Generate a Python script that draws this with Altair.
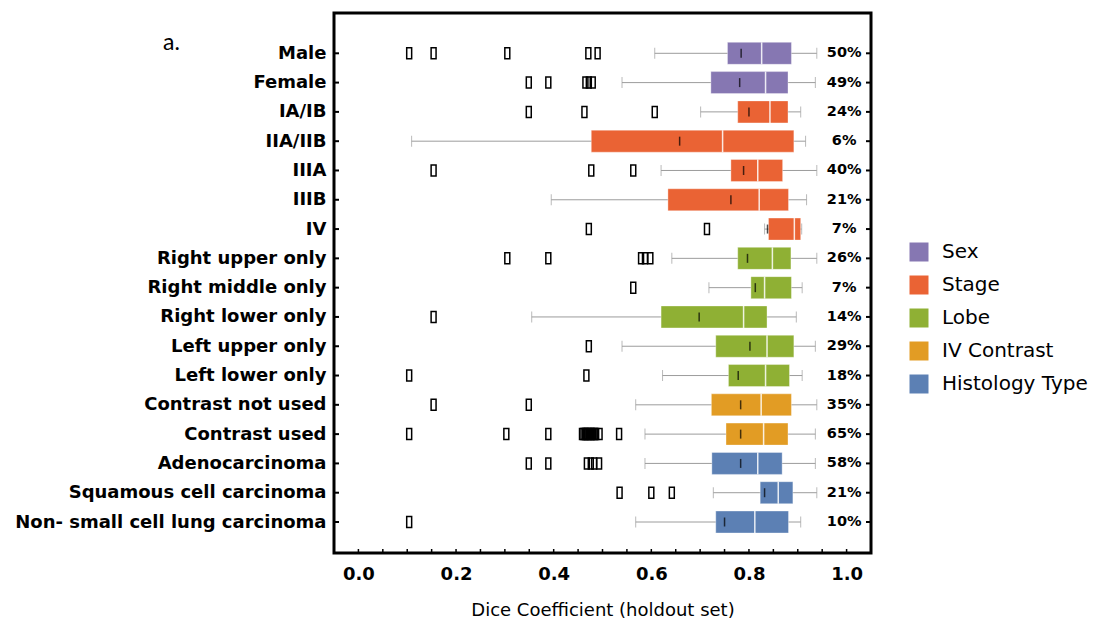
import altair as alt
import pandas as pd

categories = ["Male", "Female", "IA/IB", "IIA/IIB", "IIIA", "IIIB", "IV",
              "Right upper only", "Right middle only", "Right lower only",
              "Left upper only", "Left lower only", "Contrast not used",
              "Contrast used", "Adenocarcinoma", "Squamous cell carcinoma",
              "Non- small cell lung carcinoma"]
groups = ["Sex", "Sex", "Stage", "Stage", "Stage", "Stage", "Stage",
          "Lobe", "Lobe", "Lobe", "Lobe", "Lobe",
          "IV Contrast", "IV Contrast",
          "Histology Type", "Histology Type", "Histology Type"]
group_order = ["Sex", "Stage", "Lobe", "IV Contrast", "Histology Type"]
group_colors = ["#8677B2", "#EA6334", "#8FB034", "#E29C24", "#5C80B4"]

whisker_lo = [0.607, 0.540, 0.701, 0.109, 0.620, 0.395, 0.832, 0.642, 0.718,
              0.355, 0.540, 0.623, 0.568, 0.587, 0.587, 0.727, 0.568]
q1 = [0.756, 0.722, 0.777, 0.477, 0.763, 0.634, 0.840, 0.777, 0.804,
      0.620, 0.732, 0.758, 0.723, 0.753, 0.724, 0.823, 0.732]
median = [0.826, 0.834, 0.843, 0.746, 0.818, 0.821, 0.893, 0.848, 0.832,
          0.789, 0.837, 0.834, 0.825, 0.830, 0.818, 0.860, 0.812]
q3 = [0.887, 0.880, 0.880, 0.892, 0.869, 0.881, 0.906, 0.886, 0.887,
      0.837, 0.892, 0.883, 0.887, 0.880, 0.868, 0.890, 0.881]
whisker_hi = [0.939, 0.936, 0.906, 0.916, 0.939, 0.918, 0.908, 0.939, 0.909,
              0.897, 0.936, 0.909, 0.939, 0.936, 0.936, 0.939, 0.906]
mean = [0.784, 0.781, 0.800, 0.658, 0.789, 0.763, 0.838, 0.797, 0.813,
        0.698, 0.802, 0.778, 0.783, 0.783, 0.783, 0.832, 0.750]
pct = ["50%", "49%", "24%", "6%", "40%", "21%", "7%", "26%", "7%", "14%",
       "29%", "18%", "35%", "65%", "58%", "21%", "10%"]

outliers = [
    [0.104, 0.154, 0.305, 0.471, 0.490],
    [0.349, 0.389, 0.465, 0.472, 0.480],
    [0.349, 0.463, 0.607],
    [],
    [0.154, 0.477, 0.563],
    [],
    [0.472, 0.714],
    [0.305, 0.389, 0.579, 0.587, 0.598],
    [0.563],
    [0.154],
    [0.472],
    [0.104, 0.467],
    [0.154, 0.349],
    [0.104, 0.303, 0.389, 0.458, 0.461, 0.464, 0.466, 0.469, 0.472, 0.475,
     0.478, 0.481, 0.484, 0.487, 0.494, 0.534],
    [0.349, 0.389, 0.468, 0.476, 0.483, 0.493],
    [0.535, 0.600, 0.642],
    [0.104],
]

x_ticks = [0.0, 0.05, 0.1, 0.15, 0.2, 0.25, 0.3, 0.35, 0.4, 0.45, 0.5, 0.55,
           0.6, 0.65, 0.7, 0.75, 0.8, 0.85, 0.9, 0.95, 1.0]
x_labels = [0.0, 0.2, 0.4, 0.6, 0.8, 1.0]

W, H = 537, 540
FONT = "DejaVu Sans"

df = pd.DataFrame({"cat": categories, "group": groups, "lo": whisker_lo,
                   "q1": q1, "med": median, "q3": q3, "hi": whisker_hi,
                   "mean": mean, "pct": pct})
df_out = pd.DataFrame([{"cat": c, "v": v}
                       for c, vs in zip(categories, outliers) for v in vs])
df_ticks = pd.DataFrame({"t": x_ticks})

xscale = alt.Scale(domain=[-0.05, 1.05], nice=False, zero=False)
yscale = alt.Scale(type="point", domain=categories, range=[40.3, 509], padding=0)

x_axis = alt.Axis(
    values=x_labels, format=".1f", grid=False, ticks=False, domain=False,
    labelFontSize=18, labelFont=FONT, labelFontWeight="bold",
    labelColor="black", labelPadding=12,
    title="Dice Coefficient (holdout set)", titleFont=FONT,
    titleFontSize=18, titleFontWeight="normal", titleColor="black",
    titlePadding=18)
y_axis = alt.Axis(
    title=None, ticks=False, domain=False, grid=False,
    labelFontSize=18, labelFont=FONT, labelFontWeight="bold",
    labelColor="black", labelPadding=8, labelLimit=500)


def X(field):
    return alt.X(field, scale=xscale, axis=x_axis)


def Y():
    return alt.Y("cat:N", scale=yscale, axis=y_axis)


base = alt.Chart(df)

whisk = base.mark_rule(color="#9c9c9c", strokeWidth=1).encode(
    x=X("lo:Q"), x2="hi:Q", y=Y())
cap_lo = base.mark_tick(color="#9c9c9c", size=11, thickness=1).encode(
    x=X("lo:Q"), y=Y())
cap_hi = base.mark_tick(color="#9c9c9c", size=11, thickness=1).encode(
    x=X("hi:Q"), y=Y())
box = base.mark_bar(size=22, stroke="white", strokeWidth=1,
                    strokeOpacity=0.35).encode(
    x=X("q1:Q"), x2="q3:Q", y=Y(),
    color=alt.Color("group:N",
                    scale=alt.Scale(domain=group_order, range=group_colors),
                    legend=alt.Legend(
                        title=None, orient="none", legendX=575, legendY=229,
                        direction="vertical", symbolType="square",
                        symbolSize=361, symbolStrokeWidth=0,
                        labelFontSize=20, labelFont=FONT, labelColor="black",
                        rowPadding=13, labelOffset=13, padding=0)))
med = base.mark_tick(color="white", size=22, thickness=1.5,
                     opacity=0.85).encode(x=X("med:Q"), y=Y())
mn = base.mark_tick(color="black", size=9, thickness=1.5).encode(
    x=X("mean:Q"), y=Y())
outs = alt.Chart(df_out).mark_point(
    shape="M-0.45,-1H0.45V1H-0.45Z", size=121, filled=False,
    stroke="black", strokeWidth=1.5, opacity=1).encode(x=X("v:Q"), y=Y())
pct_text = base.mark_text(fontSize=14.5, fontWeight="bold", font=FONT,
                          align="center", baseline="middle",
                          color="black").encode(
    x=alt.datum(0.995, scale=xscale), y=Y(), text="pct:N")
left_ticks = base.mark_rule(color="black", strokeWidth=2).encode(
    x=alt.value(0), x2=alt.value(5), y=Y())
right_ticks = base.mark_rule(color="black", strokeWidth=2).encode(
    x=alt.value(W - 5), x2=alt.value(W), y=Y())
bottom_ticks = alt.Chart(df_ticks).mark_rule(color="black",
                                              strokeWidth=1.5).encode(
    x=X("t:Q"), y=alt.value(H), y2=alt.value(H - 4))
panel_label = alt.Chart(pd.DataFrame({"t": ["a."]})).mark_text(
    align="left", baseline="middle", fontSize=23, font="Lato",
    color="black").encode(x=alt.value(-171), y=alt.value(30), text="t:N")

chart = alt.layer(whisk, cap_lo, cap_hi, box, med, mn, outs, pct_text,
                  left_ticks, right_ticks, bottom_ticks, panel_label).properties(
    width=W, height=H,
    autosize=alt.AutoSizeParams(type="none"),
    padding={"left": 326, "top": 5, "right": 218, "bottom": 68},
).configure(background="white").configure_view(stroke="black", strokeWidth=3)

chart.save("out.html", embed_options={"renderer": "svg", "actions": False})
